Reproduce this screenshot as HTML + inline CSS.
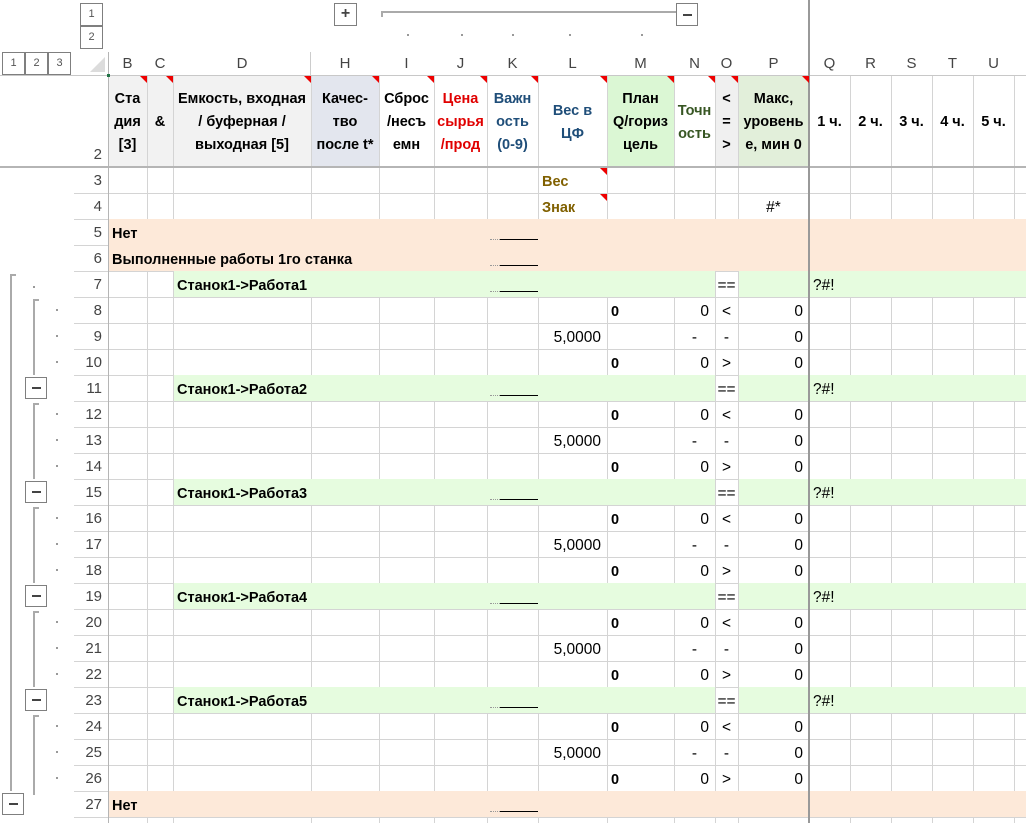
<!DOCTYPE html>
<html><head><meta charset="utf-8">
<style>
*{box-sizing:border-box;margin:0;padding:0}
body{width:1026px;height:823px;overflow:hidden;background:#fff;position:relative;font-family:"Liberation Sans","DejaVu Sans",sans-serif;}
.a{position:absolute}
.btn{position:absolute;border:1px solid #7f7f7f;background:#fff;color:#555;font-size:11px;text-align:center;line-height:20px}
.c{position:absolute;font-size:15.5px;color:#000;white-space:nowrap;overflow:visible}
.b{font-weight:bold;font-size:14.5px}
.tri{position:absolute;width:0;height:0;border-top:7px solid #e00;border-left:7px solid transparent}
.hl{position:absolute;height:1px;background:#d4d4d4}
.vl{position:absolute;width:1px;background:#d4d4d4}
</style></head><body>
<div id="root"></div>
<script>
const R=document.getElementById('root');
function el(h){R.insertAdjacentHTML('beforeend',h);}
const cols=[['B',108,147],['C',147,173],['D',173,311],['H',311,379],['I',379,434],['J',434,487],['K',487,538],['L',538,607],['M',607,674],['N',674,715],['O',715,738],['P',738,809],['Q',809,850],['R',850,891],['S',891,932],['T',932,973],['U',973,1014],['V',1014,1055]];
const X={};cols.forEach(c=>X[c[0]]=[c[1],c[2]]);
function rowTop(n){return n==2?75:167+(n-3)*26;}
function rowH(n){return n==2?92:26;}
function fill(c1,c2,n,color){el(`<div class="a" style="left:${X[c1][0]}px;top:${rowTop(n)}px;width:${X[c2][1]-X[c1][0]}px;height:${rowH(n)}px;background:${color}"></div>`);}
fill('B','D',2,'#f2f2f2');fill('H','H',2,'#e3e6ee');fill('M','M',2,'#dbf7d4');fill('O','O',2,'#f0f0f0');fill('P','P',2,'#e2efda');
const groups=[7,11,15,19,23];
cols.forEach(c=>{el(`<div class="vl" style="left:${c[1]}px;top:75px;height:748px"></div>`);});
el(`<div class="vl" style="left:310px;top:52px;height:23px;background:#ccc"></div>`);
for(let n=2;n<=28;n++){let y=n==2?75:rowTop(n);el(`<div class="hl" style="left:74px;top:${y}px;width:952px"></div>`);}
[5,6,27].forEach(n=>fill('B','V',n,'#fde9d9'));
groups.forEach(n=>{fill('D','N',n,'#e6fcdf');fill('P','V',n,'#e6fcdf');});
groups.forEach(n=>{[173,715,738].forEach(x=>el(`<div class="vl" style="left:${x}px;top:${rowTop(n)}px;height:26px"></div>`));});
el(`<div class="vl" style="left:147px;top:${rowTop(7)}px;height:${26*20}px"></div>`);
el(`<div class="vl" style="left:173px;top:${rowTop(7)}px;height:${26*20}px"></div>`);
[5,6,27].forEach(n=>el(`<div class="vl" style="left:108px;top:${rowTop(n)}px;height:26px;background:#bbb"></div>`));
el(`<div class="a" style="left:0;top:166px;width:1026px;height:2px;background:#b5b5b5"></div>`);
el(`<div class="a" style="left:0;top:75px;width:1026px;height:1px;background:#c8c8c8"></div>`);
el(`<div class="a" style="left:108px;top:52px;width:1px;height:771px;background:#b5b5b5"></div>`);
el(`<div class="a" style="left:808px;top:0;width:2px;height:823px;background:#999"></div>`);
cols.forEach(c=>{if(c[0]=='V')return;el(`<div class="c" style="left:${c[1]}px;top:52px;width:${c[2]-c[1]}px;height:23px;line-height:23px;text-align:center;font-size:15px;color:#444">${c[0]}</div>`);});
el(`<div class="a" style="left:90px;top:57px;width:0;height:0;border-bottom:15px solid #dcdcdc;border-left:15px solid transparent"></div>`);
el(`<div class="a" style="left:107px;top:74px;width:3px;height:3px;background:#217346"></div>`);
for(let n=2;n<=27;n++){let y=rowTop(n),h=rowH(n);el(`<div class="c" style="left:74px;top:${n==2?y+h-24:y}px;width:28px;height:24px;line-height:${n==2?24:28}px;text-align:right;font-size:15px;color:#444">${n}</div>`);}
function hdr(c,lines,color,top){let x=X[c];el(`<div class="c b" style="left:${x[0]-4}px;top:${top||88}px;width:${x[1]-x[0]+8}px;text-align:center;line-height:23px;color:${color||'#000'}">${lines.join('<br>')}</div>`);}
hdr('B',['Ста','дия','[3]']);hdr('C',['','&']);hdr('D',['Емкость, входная','/ буферная /','выходная [5]']);
hdr('H',['Качес-','тво','после t*']);hdr('I',['Сброс','/несъ','емн']);hdr('J',['Цена','сырья','/прод'],'#e00000');
hdr('K',['Важн','ость','(0-9)'],'#1f4e79');hdr('L',['Вес в','ЦФ'],'#1f4e79',100);hdr('M',['План','Q/гориз','цель']);
hdr('N',['Точн','ость'],'#375623',100);hdr('O',['<','=','>']);hdr('P',['Макс,','уровень','е, мин 0']);
['Q','R','S','T','U'].forEach((c,i)=>hdr(c,[(i+1)+' ч.'],'#000',111));
['B','C','D','H','I','J','K','L','M','N','O','P'].forEach(c=>el(`<div class="tri" style="left:${X[c][1]-7}px;top:76px"></div>`));
[3,4].forEach(n=>el(`<div class="tri" style="left:${X.L[1]-7}px;top:${rowTop(n)+1}px"></div>`));
function txt(c,n,t,al,cls,color){let x=X[c];let pad=al=='left'?'padding-left:4px':al=='right'?'padding-right:6px':'';el(`<div class="c ${cls||''}" style="left:${x[0]}px;top:${rowTop(n)}px;width:${x[1]-x[0]}px;height:26px;line-height:30px;text-align:${al};${pad};color:${color||'#000'}">${t}</div>`);}
txt('L',3,'Вес','left','b','#806000');txt('L',4,'Знак','left','b','#806000');txt('P',4,'#*','center');
txt('B',5,'Нет','left','b');txt('B',6,'Выполненные работы 1го станка','left','b');txt('B',27,'Нет','left','b');
function mark(n){let y=rowTop(n)+20;el(`<div class="a" style="left:490px;top:${y}px;width:10px;height:0;border-top:1px dotted #999"></div><div class="a" style="left:500px;top:${y}px;width:38px;height:1px;background:#000"></div>`);}
[5,6,27].forEach(mark);
groups.forEach((n,i)=>{
 txt('D',n,'Станок1->Работа'+(i+1),'left','b');mark(n);txt('O',n,'==','center');txt('Q',n,'?#!','left');
 txt('M',n+1,'0','left','b');txt('N',n+1,'0','right');txt('O',n+1,'&lt;','center');txt('P',n+1,'0','right');
 txt('L',n+2,'5,0000','right');txt('N',n+2,'-','center');txt('O',n+2,'-','center');txt('P',n+2,'0','right');
 txt('M',n+3,'0','left','b');txt('N',n+3,'0','right');txt('O',n+3,'&gt;','center');txt('P',n+3,'0','right');
});
el(`<div class="btn" style="left:80px;top:3px;width:23px;height:23px">1</div><div class="btn" style="left:80px;top:26px;width:23px;height:23px">2</div>`);
el(`<div class="btn" style="left:2px;top:52px;width:23px;height:23px">1</div><div class="btn" style="left:25px;top:52px;width:23px;height:23px">2</div><div class="btn" style="left:48px;top:52px;width:23px;height:23px">3</div>`);
el(`<div class="btn" style="left:334px;top:3px;width:23px;height:23px;font-size:16px;font-weight:bold;color:#444">+</div>`);
el(`<div class="a" style="left:381px;top:11px;width:297px;height:2px;background:#aaa"></div><div class="a" style="left:381px;top:11px;width:2px;height:6px;background:#aaa"></div>`);
el(`<div class="btn" style="left:676px;top:3px;width:22px;height:23px"><div style="position:absolute;left:6px;top:10px;width:9px;height:2px;background:#444"></div></div>`);
[407,461,512,569,641].forEach(x=>el(`<div class="a" style="left:${x}px;top:34px;width:2px;height:2px;background:#999"></div>`));
el(`<div class="a" style="left:10px;top:274px;width:2px;height:517px;background:#aaa"></div><div class="a" style="left:10px;top:274px;width:6px;height:2px;background:#aaa"></div>`);
el(`<div class="a" style="left:33px;top:286px;width:2px;height:2px;background:#999"></div>`);
function minus(x,y){el(`<div class="btn" style="left:${x}px;top:${y}px;width:22px;height:22px"><div style="position:absolute;left:6px;top:9px;width:9px;height:2px;background:#444"></div></div>`);}
groups.forEach(n=>{let t=rowTop(n+1);
 el(`<div class="a" style="left:33px;top:${t+2}px;width:2px;height:${n==23?80:76}px;background:#aaa"></div><div class="a" style="left:33px;top:${t+2}px;width:6px;height:2px;background:#aaa"></div>`);
 [1,2,3].forEach(k=>el(`<div class="a" style="left:56px;top:${rowTop(n+k)+12}px;width:2px;height:2px;background:#999"></div>`));
 if(n>7) minus(25,rowTop(n)+2);
});
minus(2,rowTop(27)+2);
</script>
</body></html>
